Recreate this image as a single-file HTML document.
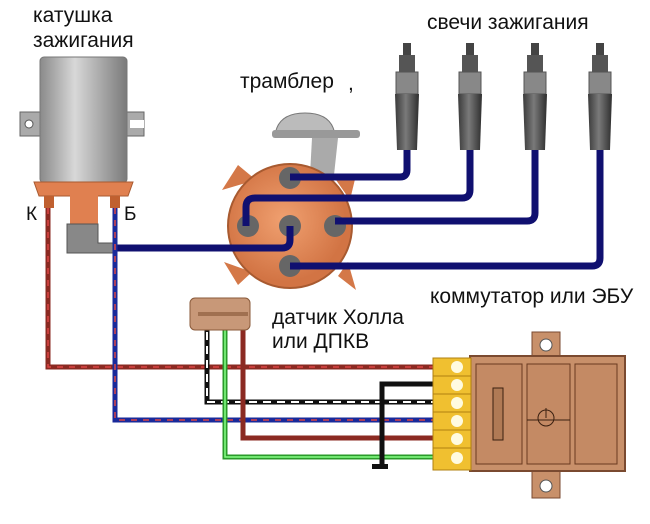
<!DOCTYPE html>
<html><head><meta charset="utf-8"><style>
body{margin:0;background:#fff;}
svg{display:block}
text{font-family:"Liberation Sans",sans-serif;font-size:21px;fill:#111}
</style></head><body>
<svg width="650" height="524" viewBox="0 0 650 524">
<defs>
<linearGradient id="cg" x1="0" x2="1"><stop offset="0" stop-color="#8a8a8a"/><stop offset=".4" stop-color="#d8d8d8"/><stop offset="1" stop-color="#7a7a7a"/></linearGradient>
<linearGradient id="pg" x1="0" x2="1"><stop offset="0" stop-color="#3a3a3a"/><stop offset=".45" stop-color="#7a7a7a"/><stop offset="1" stop-color="#2e2e2e"/></linearGradient>
<radialGradient id="dg" cx=".45" cy=".45"><stop offset="0" stop-color="#f0a070"/><stop offset="1" stop-color="#d27444"/></radialGradient>
<g id="p">
<rect x="-4" y="43" width="8" height="12" fill="#444"/>
<rect x="-8" y="55" width="16" height="18" fill="#555"/>
<rect x="-11" y="72" width="22" height="22" fill="#888" stroke="#555"/>
<path d="M-12 94 H12 L10 150 H-10 Z" fill="url(#pg)"/>
</g>
</defs>
<text x="33" y="22">катушка</text>
<text x="33" y="47">зажигания</text>
<text x="427" y="29">свечи зажигания</text>
<text x="240" y="88">трамблер</text>
<text x="348" y="90">,</text>
<text x="430" y="303">коммутатор или ЭБУ</text>
<text x="272" y="324">датчик Холла</text>
<text x="272" y="348">или ДПКВ</text>

<!-- coil -->
<rect x="20" y="112" width="26" height="24" fill="#aaa" stroke="#666"/><circle cx="29" cy="124" r="4" fill="#fff" stroke="#555"/>
<rect x="122" y="112" width="22" height="24" fill="#aaa" stroke="#666"/><rect x="130" y="120" width="14" height="8" fill="#fff"/>
<rect x="40" y="57" width="87" height="126" rx="4" fill="url(#cg)" stroke="#777"/>
<path d="M34 182 H133 L128 196 H39 Z" fill="#e08050" stroke="#a85a30"/>
<rect x="70" y="195" width="28" height="30" fill="#e08050"/>
<rect x="44" y="196" width="10" height="12" fill="#c06030"/><rect x="110" y="196" width="10" height="12" fill="#c06030"/>
<text x="26" y="220" style="font-size:19px">К</text><text x="124" y="220" style="font-size:19px">Б</text>
<path d="M67 224 H98 V243 H116 V253 H67 Z" fill="#888" stroke="#555"/>

<!-- distributor -->
<path d="M275 135 Q278 113 305 113 Q332 113 335 135 Z" fill="#bbb" stroke="#777"/>
<rect x="272" y="130" width="88" height="8" rx="3" fill="#999"/>
<path d="M312 138 L338 138 L334 175 L310 175Z" fill="#aaa"/>
<polygon points="222,190 238,165 256,180" fill="#d47848"/>
<polygon points="224,262 238,285 252,272" fill="#d47848"/>
<polygon points="336,180 356,175 350,200" fill="#d47848"/>
<polygon points="338,276 356,290 348,262" fill="#d47848"/>
<circle cx="290" cy="226" r="62" fill="url(#dg)" stroke="#a85a30" stroke-width="2"/>
<g fill="#666"><circle cx="290" cy="178" r="11"/><circle cx="248" cy="226" r="11"/><circle cx="290" cy="226" r="11"/><circle cx="335" cy="226" r="11"/><circle cx="290" cy="266" r="11"/></g>

<!-- HT wires -->
<g fill="none" stroke="#101070" stroke-width="7" stroke-linejoin="round">
<path d="M407 150 V170 Q407 177 400 177 H290"/>
<path d="M470 150 V190 Q470 198 462 198 H255 Q246 198 246 207 V226"/>
<path d="M535 150 V213 Q535 221 527 221 H335"/>
<path d="M600 150 V258 Q600 266 592 266 H290"/>
<path d="M290 226 V240 Q290 248 282 248 H115"/>
</g>

<use href="#p" x="407"/><use href="#p" x="470"/><use href="#p" x="535"/><use href="#p" x="600"/>

<!-- low voltage wires -->
<g fill="none" stroke-width="5">
<path d="M48 208 V367 H440" stroke="#8b2a22"/>
<path d="M48 208 V367 H440" stroke="#d44" stroke-width="1.5" stroke-dasharray="6 6"/>
<path d="M115 208 V420 H440" stroke="#1a2a9a"/>
<path d="M115 208 V420 H440" stroke="#d44" stroke-width="1.5" stroke-dasharray="6 6"/>
<path d="M207 318 V402 H440" stroke="#111"/>
<path d="M207 318 V402 H440" stroke="#fff" stroke-width="2" stroke-dasharray="8 6"/>
<path d="M225 318 V457 H440" stroke="#2a9a2a"/>
<path d="M225 318 V457 H440" stroke="#8f8" stroke-width="1.5"/>
<path d="M243 318 V438 H440" stroke="#8b2a22"/>
<path d="M440 384 H382 V466" stroke="#111"/>
</g>
<rect x="372" y="464" width="16" height="5" fill="#111"/>

<!-- hall sensor -->
<rect x="190" y="298" width="60" height="32" rx="5" fill="#c89878" stroke="#8a5a3a"/>
<rect x="198" y="312" width="50" height="4" fill="#a07050"/>

<!-- commutator -->
<rect x="532" y="332" width="28" height="30" fill="#c8906a" stroke="#7a4a30"/><circle cx="546" cy="345" r="6" fill="#fff" stroke="#555"/>
<rect x="532" y="468" width="28" height="30" fill="#c8906a" stroke="#7a4a30"/><circle cx="546" cy="486" r="6" fill="#fff" stroke="#555"/>
<rect x="470" y="356" width="155" height="115" fill="#c8906a" stroke="#7a4a30" stroke-width="2"/>
<rect x="476" y="364" width="46" height="100" fill="#c48a64" stroke="#6a3a20"/>
<rect x="527" y="364" width="43" height="100" fill="#c48a64" stroke="#6a3a20"/>
<rect x="575" y="364" width="42" height="100" fill="#c48a64" stroke="#6a3a20"/>
<rect x="493" y="388" width="10" height="52" fill="#b07a55" stroke="#3a2010"/>
<circle cx="546" cy="418" r="8" fill="none" stroke="#3a2010"/><path d="M527 420 H570 M546 408 V418" stroke="#3a2010"/>
<rect x="433" y="358" width="38" height="112" fill="#f0c030" stroke="#b08010"/>
<g stroke="#b08010"><path d="M433 376 H471 M433 394 H471 M433 412 H471 M433 430 H471 M433 448 H471"/></g>
<g fill="#fffbe0"><circle cx="457" cy="367" r="6"/><circle cx="457" cy="385" r="6"/><circle cx="457" cy="403" r="6"/><circle cx="457" cy="421" r="6"/><circle cx="457" cy="439" r="6"/><circle cx="457" cy="458" r="6"/></g>
</svg>
</body></html>
